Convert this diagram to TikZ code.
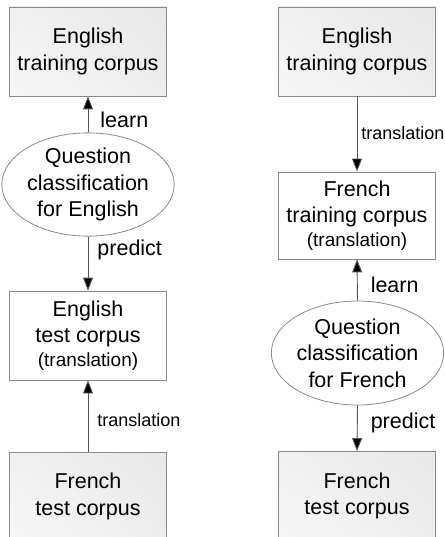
\documentclass[tikz,border=0pt]{standalone}
\usepackage{fontspec}
\setmainfont{Liberation Sans}
\usetikzlibrary{arrows.meta,shapes.geometric,shadings}
\definecolor{edgegray}{HTML}{8A8A8A}
\definecolor{linegray}{HTML}{555555}
\tikzset{
  x=1pt, y=-1pt,
  txt/.style={font=\fontsize{21.5}{26.5}\selectfont, align=center, text=black},
  graybox/.style={txt, draw=edgegray, line width=0.8pt, minimum width=157pt, minimum height=89pt,
    inner sep=0pt, lower left=gray!6, upper left=gray!12, lower right=gray!14, upper right=gray!18},
  whitebox/.style={txt, draw=edgegray, line width=0.8pt, fill=white, minimum width=157pt, inner sep=0pt},
  qell/.style={txt, ellipse, draw=edgegray, line width=0.8pt, inner sep=0pt, minimum width=165pt, minimum height=103pt},
  conn/.style={draw=linegray, line width=0.9pt, -{Triangle[width=10pt,length=13pt,fill=black]}},
  elab/.style={font=\fontsize{21.5}{26.5}\selectfont, anchor=west, inner sep=0pt},
  slab/.style={font=\fontsize{18}{22}\selectfont, anchor=west, inner sep=0pt},
}
\newcommand{\smalltr}{{\fontsize{19}{24}\selectfont (translation)}}
\begin{document}
\begin{tikzpicture}
\useasboundingbox (0,0) rectangle (444,537);
% left column
\node[graybox] (L1) at (88,51.5) {English\\training corpus};
\node[qell] (Lq) at (88,184.5) {Question\\classification\\for English};
\node[whitebox, minimum height=89pt] (L2) at (88,335.5) {English\\test corpus\\[-2.5pt]\smalltr};
\node[graybox] (L3) at (88,496.5) {French\\test corpus};
% right column
\node[graybox] (R1) at (357,51.5) {English\\training corpus};
\node[whitebox, minimum height=87pt] (R2) at (357,215.5) {French\\training corpus\\[-2.5pt]\smalltr};
\node[qell, minimum height=104pt] (Rq) at (357.5,353) {Question\\classification\\for French};
\node[graybox] (R3) at (357,496) {French\\test corpus};
% connectors
\draw[conn] (Lq.north) -- node[elab, pos=0.35, xshift=12pt] {learn} (L1.south);
\draw[conn] (Lq.south) -- node[elab, pos=0.25, xshift=9pt] {predict} (L2.north);
\draw[conn] (L3.north) -- node[slab, pos=0.44, xshift=9pt] {translation} (L2.south);
\draw[conn] (R1.south) -- node[slab, pos=0.49, xshift=4pt] {translation} (R2.north);
\draw[conn] (Rq.north) -- node[elab, pos=0.38, xshift=13pt] {learn} (R2.south);
\draw[conn] (Rq.south) -- node[elab, pos=0.39, xshift=13pt] {predict} (R3.north);
\end{tikzpicture}
\end{document}
